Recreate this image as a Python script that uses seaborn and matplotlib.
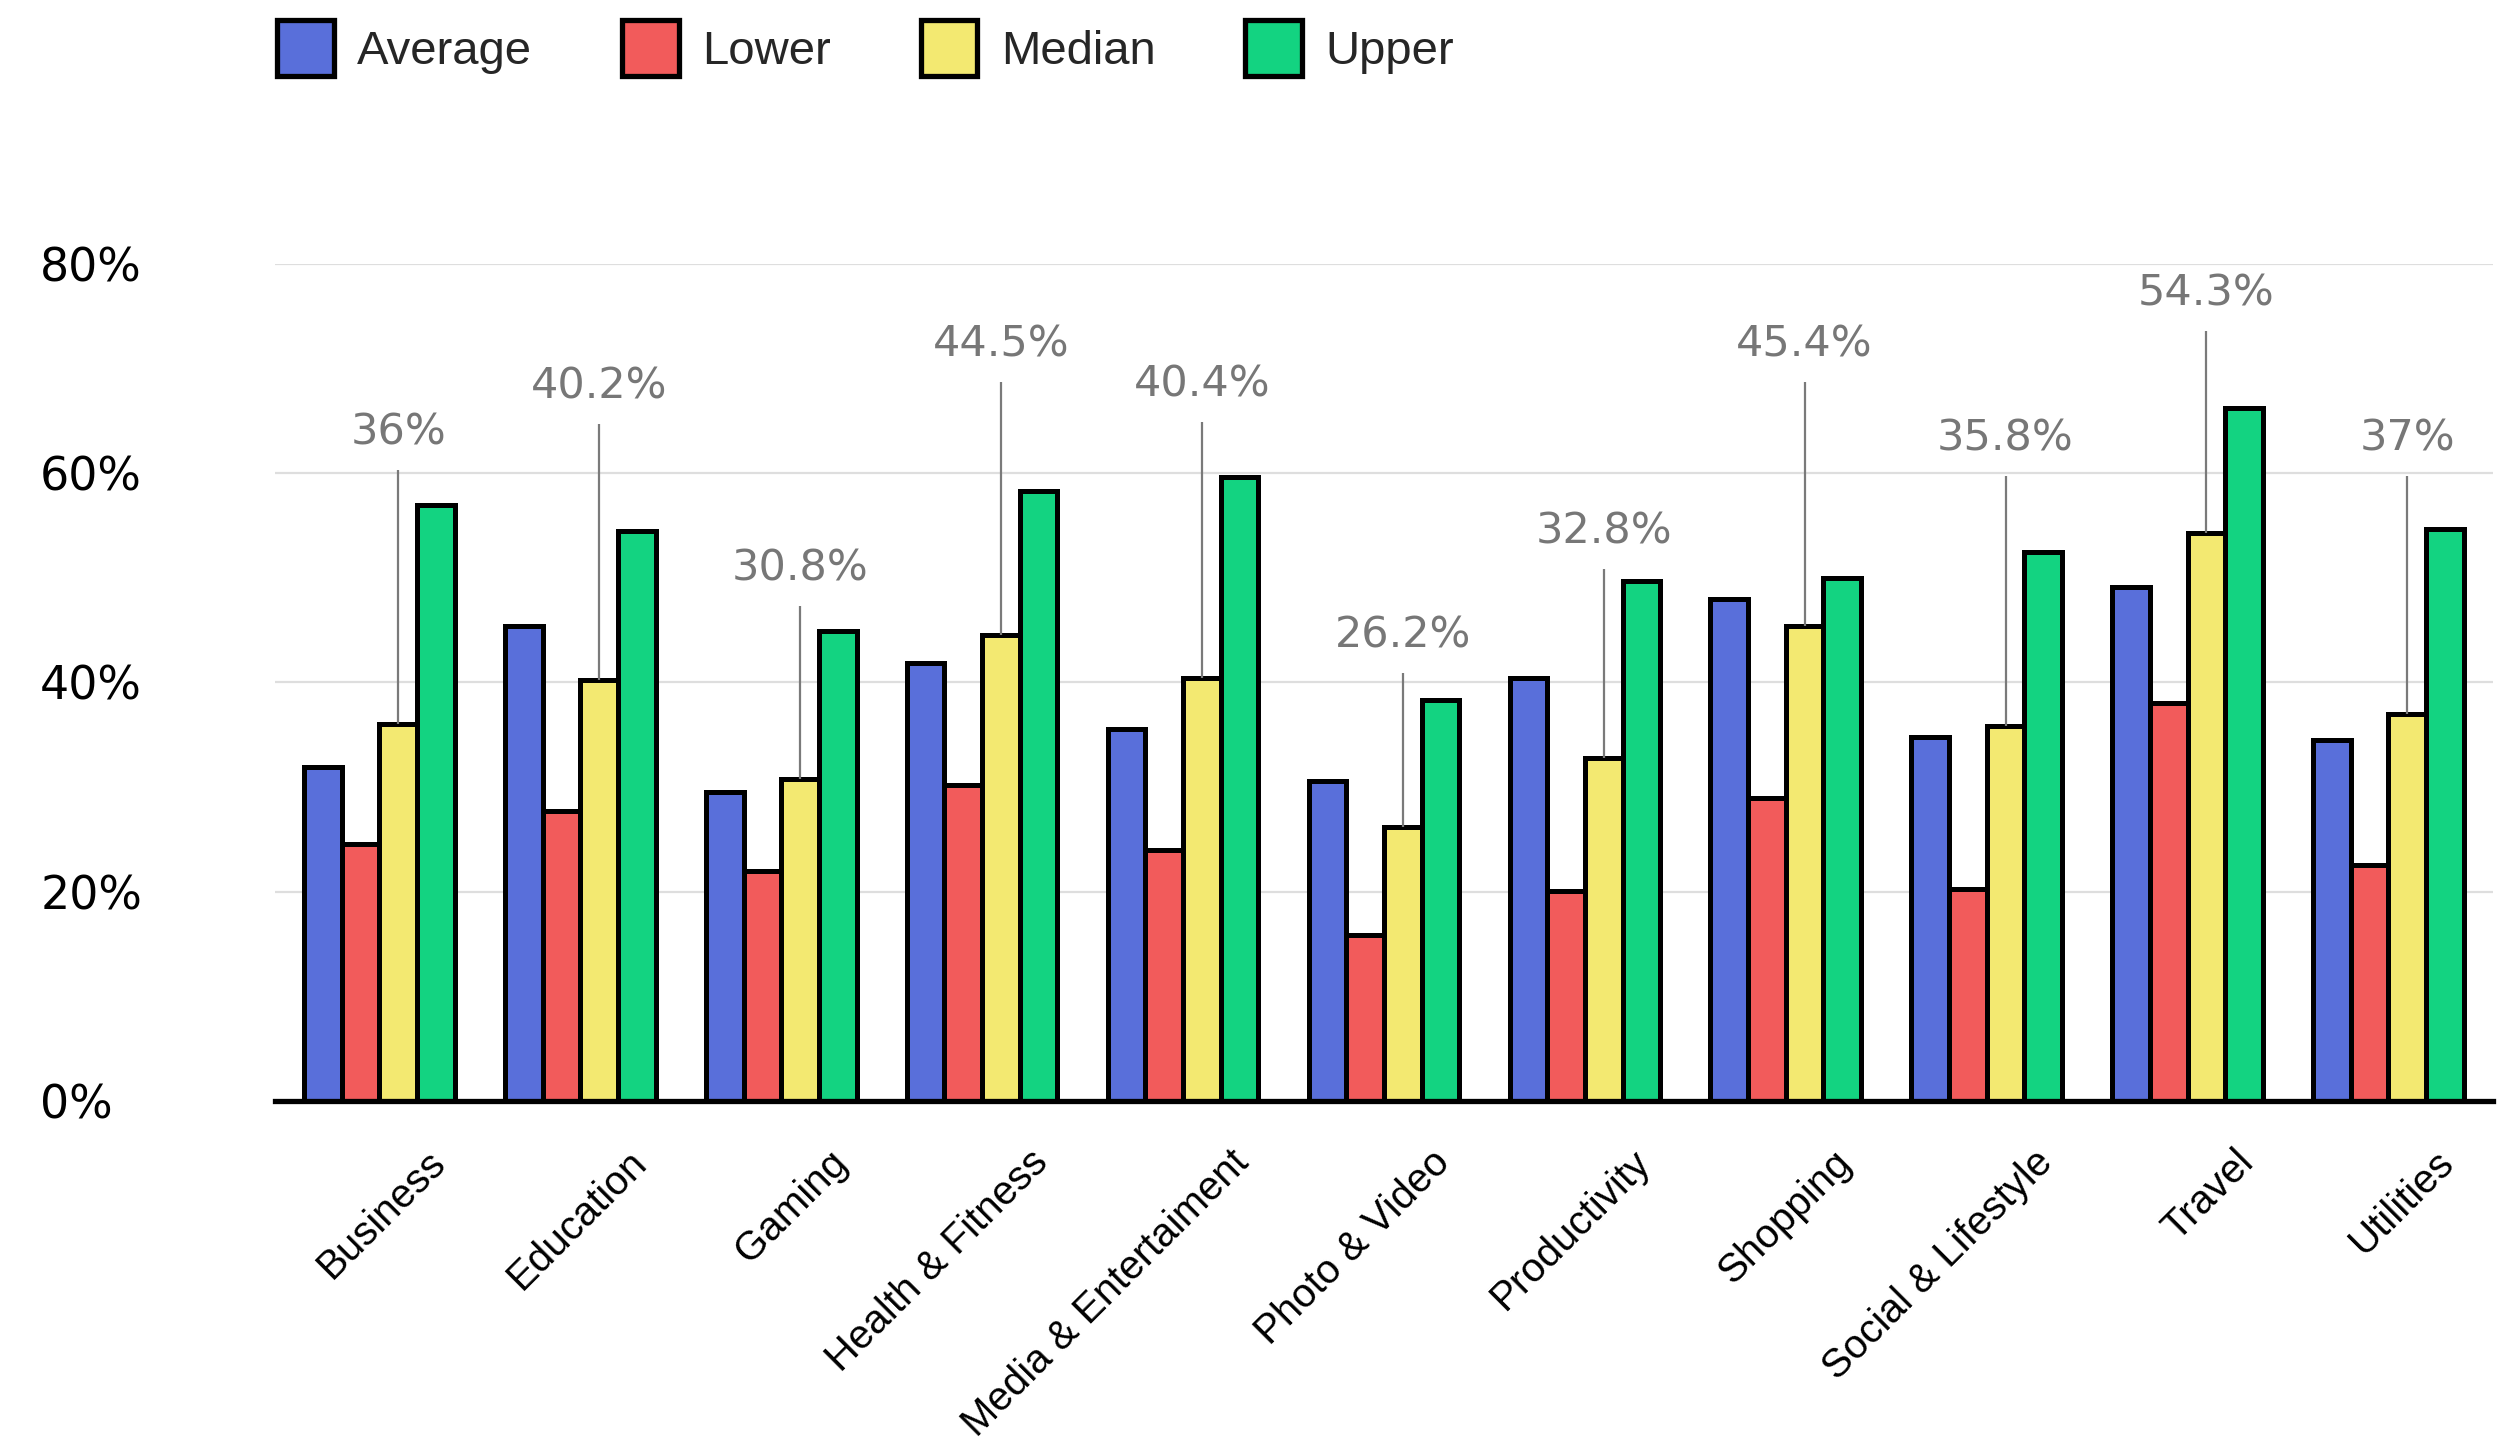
import matplotlib
matplotlib.use("Agg")
import matplotlib.pyplot as plt
import pandas as pd
import seaborn as sns
from matplotlib.patches import Patch
from matplotlib.transforms import ScaledTranslation

# Benchmark ranges per app category (percent)
categories = ["Business", "Education", "Gaming", "Health & Fitness",
              "Media & Entertaiment", "Photo & Video", "Productivity",
              "Shopping", "Social & Lifestyle", "Travel", "Utilities"]
average = [31.9, 45.4, 29.5, 41.9, 35.6, 30.6, 40.4, 48.0, 34.8, 49.1, 34.5]
lower = [24.6, 27.7, 22.0, 30.2, 24.0, 15.9, 20.1, 29.0, 20.3, 38.0, 22.6]
median = [36.0, 40.2, 30.8, 44.5, 40.4, 26.2, 32.8, 45.4, 35.8, 54.3, 37.0]
upper = [57.0, 54.5, 44.9, 58.3, 59.6, 38.3, 49.7, 50.0, 52.5, 66.2, 54.7]
series_names = ["Average", "Lower", "Median", "Upper"]
y_ticks = [0, 20, 40, 60, 80]

# Height (in axis units) where each median callout label sits
callout_y = [63.9, 68.3, 50.9, 72.3, 68.5, 44.5, 54.4, 72.3, 63.3, 77.2, 63.3]

colors = ["#596FDA", "#F25B5B", "#F3E971", "#13D381"]

rows = []
for name, vals in zip(series_names, [average, lower, median, upper]):
    for cat, v in zip(categories, vals):
        rows.append({"category": cat, "series": name, "value": v})
df = pd.DataFrame(rows)

sns.set_theme(style="white")
plt.rcParams["font.family"] = ["DejaVu Sans"]

DPI = 100
fig = plt.figure(figsize=(2506 / DPI, 1445 / DPI), dpi=DPI)
ax = fig.add_axes([0.1097, 0.2381, 0.9948 - 0.1097, 0.8173 - 0.2381])

sns.barplot(data=df, x="category", y="value", hue="series",
            order=categories, hue_order=series_names,
            palette=colors, saturation=1, width=0.75,
            edgecolor="black", linewidth=3.6, legend=False, ax=ax)

ax.set_xlim(-0.52, len(categories) - 0.48)
ax.set_ylim(0, 80)
ax.set_xlabel("")
ax.set_ylabel("")

# gridlines and axis line
ax.set_yticks(y_ticks)
ax.yaxis.grid(True, color="#dedede", linewidth=1.6)
ax.xaxis.grid(False)
ax.set_axisbelow(True)
for side in ["top", "right", "left"]:
    ax.spines[side].set_visible(False)
ax.spines["bottom"].set_color("black")
ax.spines["bottom"].set_linewidth(3.8)
ax.spines["bottom"].set_zorder(5)

# y tick labels, left aligned at the figure edge
ax.set_yticklabels([f"{t}%" for t in y_ticks])
ax.tick_params(axis="y", length=0, pad=169, labelsize=33)
for lab in ax.get_yticklabels():
    lab.set_horizontalalignment("left")
    lab.set_fontfamily("DejaVu Sans")
    lab.set_fontweight("medium")
    lab.set_color("black")

# x tick labels, rotated
ax.tick_params(axis="x", length=0, pad=40, labelsize=29)
offset = ScaledTranslation(0.60, 0, fig.dpi_scale_trans)
for lab in ax.get_xticklabels():
    lab.set_rotation(45)
    lab.set_rotation_mode("anchor")
    lab.set_horizontalalignment("right")
    lab.set_verticalalignment("center")
    lab.set_fontfamily("Liberation Sans")
    lab.set_color("black")
    lab.set_transform(lab.get_transform() + offset)

# callouts for the median bars
median_bars = ax.containers[2]
for bar, v, ly in zip(median_bars, median, callout_y):
    cx = bar.get_x() + bar.get_width() / 2
    top = bar.get_height()
    ax.plot([cx, cx], [top, ly - 3.6], color="#7a7a7a", linewidth=1.6,
            zorder=1, solid_capstyle="butt")
    ax.text(cx, ly, f"{v:g}%", ha="center", va="center", fontsize=31,
            color="#777777", fontfamily="DejaVu Sans", clip_on=False)

# legend
handles = [Patch(facecolor=c, edgecolor="black", linewidth=3.8, label=n)
           for c, n in zip(colors, series_names)]
leg = fig.legend(handles=handles, loc="center left",
                 bbox_to_anchor=(0.1105, 1 - 48 / 1445), ncol=4,
                 frameon=False, prop={"family": "Liberation Sans", "size": 34},
                 handlelength=1.2, handleheight=1.45, handletextpad=0.5,
                 columnspacing=1.9, borderaxespad=0, borderpad=0)

fig.savefig("out.png", dpi=DPI)
